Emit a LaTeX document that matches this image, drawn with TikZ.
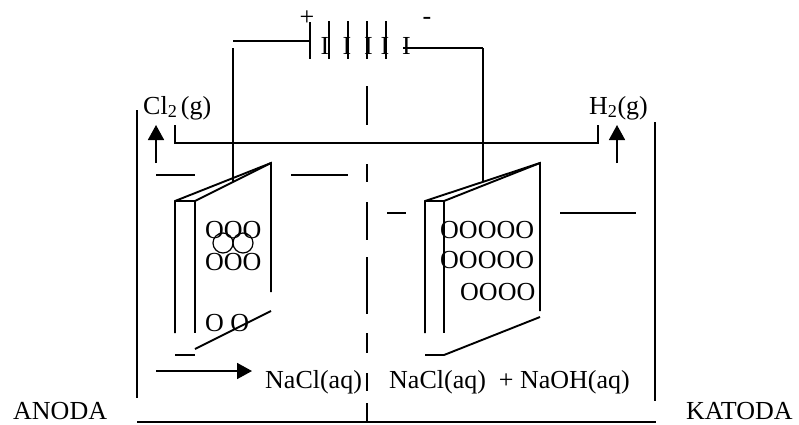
\documentclass[tikz,border=0pt]{standalone}
\usepackage{fontspec}
\setmainfont{Liberation Serif}
\usetikzlibrary{arrows.meta}
\tikzset{
  wire/.style={line width=1.9pt},
  wall/.style={line width=2.1pt},
  lbl/.style={anchor=base west, inner sep=0pt, font=\fontsize{26}{28}\selectfont},
  bubble/.style={anchor=base west, inner sep=0pt, font=\fontsize{26}{28}\selectfont},
  plate/.style={inner sep=0pt, font=\fontsize{26}{28}\selectfont},
  gas/.style={-{Triangle[length=15pt,width=16pt]}, line width=1.7pt},
  ring/.style={draw, circle, minimum size=20pt, inner sep=0pt, line width=1.2pt},
}
\begin{document}
\begin{tikzpicture}[x=1pt,y=-1pt]
    \useasboundingbox (0,0) rectangle (799,424);

    % battery
    \coordinate (wl) at (233,41);
    \coordinate (p1) at (310,41);
    \coordinate (wr) at (483,48);
    \coordinate (p6) at (403,48);
    \draw[wire] (310,22) -- (310,59);
    \draw[wire] (329,21) -- (329,59);
    \draw[wire] (348,21) -- (348,59);
    \draw[wire] (367,21) -- (367,59);
    \draw[wire] (386,21) -- (386,59);
    \node[plate] (i1) at (325,46) {I};
    \node[plate] (i2) at (347,46) {I};
    \node[plate] (i3) at (368.5,46) {I};
    \node[plate] (i4) at (385,46) {I};
    \node[plate] (i5) at (406.5,46) {I};
    \node[plate] (plus) at (307,18) {+};
    \node[plate] (minus) at (427,21) {-};
    \draw[wire] (wl) -- (p1);
    \draw[wire] (p6) -- (wr);
    \draw[wire] (233,48) -- (233,182);
    \draw[wire] (wr) -- (483,182);

    % vessel
    \draw[wall] (137,110) -- (137,398);
    \draw[wall] (655,122) -- (655,401);
    \draw[wall] (137,422) -- (656,422);
    \draw[wire] (175,125) -- (175,143) -- (598,143) -- (598,125);
    \draw[wire] (367,86) -- (367,125);
    \draw[wire] (367,164) -- (367,182);
    \draw[wire] (367,202) -- (367,240);
    \draw[wire] (367,257) -- (367,314);
    \draw[wire] (367,333) -- (367,353);
    \draw[wire] (367,373) -- (367,391);
    \draw[wire] (367,403) -- (367,423);
    \draw[wire] (156,175) -- (195,175);
    \draw[wire] (291,175) -- (348,175);
    \draw[wire] (387,213) -- (406,213);
    \draw[wire] (560,213) -- (636,213);

    % anode
    \draw[wire] (175,333) -- (175,201) -- (271,163) -- (271,292);
    \draw[wire] (175,201) -- (195,201) -- (271,163);
    \draw[wire] (195,201) -- (195,333);
    \draw[wire] (195,349) -- (271,311);
    \draw[wire] (175,355) -- (195,355);

    % cathode
    \draw[wire] (425,333) -- (425,201) -- (540,163) -- (540,311);
    \draw[wire] (425,201) -- (444,201) -- (540,163);
    \draw[wire] (444,201) -- (444,333);
    \draw[wire] (425,355) -- (444,355) -- (540,317);

    % gas bubbles
    \node[bubble] (a1) at (205,238) {OOO};
    \node[ring] (r1) at (223,243) {};
    \node[ring] (r2) at (243,243) {};
    \node[bubble] (a2) at (205,270) {OOO};
    \node[bubble] (a3) at (205,331) {O O};
    \node[bubble] (c1) at (440,238) {OOOOO};
    \node[bubble] (c2) at (440,268) {OOOOO};
    \node[bubble] (c3) at (460,300) {OOOO};

    % labels
    \node[lbl] (cl) at (143,114) {Cl\textsubscript{2}\hspace{-3pt} (g)};
    \node[lbl] (h) at (589,114) {H\textsubscript{2}(g)};
    \node[lbl] (left) at (265,388) {NaCl(aq)};
    \node[lbl] (right) at (389,388) {NaCl(aq)\ \ + NaOH(aq)};
    \node[lbl] (anoda) at (13,419) {ANODA};
    \node[lbl] (katoda) at (686,419) {KATODA};

    \draw[gas] (156,163) -- (156,125);
    \draw[gas] (617,163) -- (617,125);
    \draw[gas] (156,371) -- (252,371);
  \end{tikzpicture}
\end{document}
